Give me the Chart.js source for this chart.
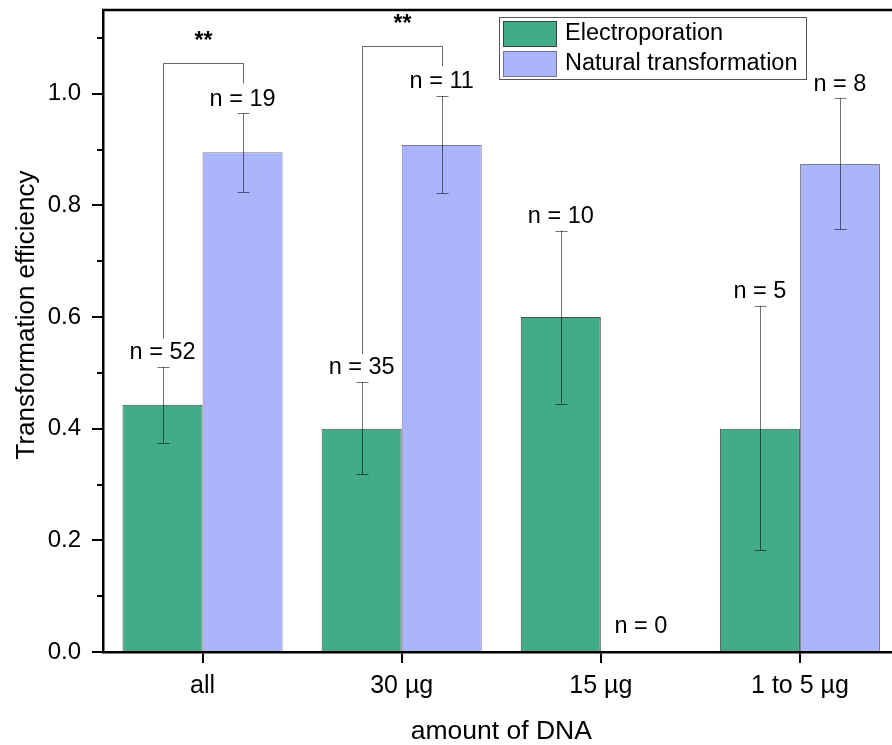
<!DOCTYPE html>
<html>
<head>
<meta charset="utf-8">
<script src="https://cdn.jsdelivr.net/npm/chart.js@4.4.0/dist/chart.umd.min.js"></script>
<style>
html,body{margin:0;padding:0;background:#fff;overflow:hidden;width:892px;height:745px}
#wrap{width:910px;height:745px}
</style>
</head>
<body>
<div id="wrap"><canvas id="c" width="910" height="745"></canvas></div>
<script>
// ---- data ----
const categories = ['all', '30 µg', '15 µg', '1 to 5 µg'];
const seriesNames = ['Electroporation', 'Natural transformation'];
const electroporation = [0.443, 0.40, 0.60, 0.40];
const naturalTransformation = [0.895, 0.908, null, 0.874];
const electroporationErrLow = [0.374, 0.318, 0.445, 0.182];
const electroporationErrHigh = [0.511, 0.484, 0.755, 0.620];
const naturalErrLow = [0.824, 0.822, null, 0.757];
const naturalErrHigh = [0.965, 0.996, null, 0.992];
const electroporationN = [52, 35, 10, 5];
const naturalN = [19, 11, 0, 8];
const significance = ['**', '**', null, null];
const yMajorTicks = [0.0, 0.2, 0.4, 0.6, 0.8, 1.0];
const yMinorTicks = [0.1, 0.3, 0.5, 0.7, 0.9, 1.1];
const yRange = [0, 1.15];
const xTitle = 'amount of DNA';
const yTitle = 'Transformation efficiency';

const FONT = 'Arial, "Liberation Sans", sans-serif';
const GREEN = '#42ac89';
const BLUE = '#abb5fd';

const overlay = {
  id: 'overlay',
  afterDatasetsDraw(chart) {
    const ctx = chart.ctx;
    const y = chart.scales.y;
    const errs = [[electroporationErrLow, electroporationErrHigh, electroporationN],
                  [naturalErrLow, naturalErrHigh, naturalN]];
    const labelY = [[], []];
    ctx.save();
    // error bars
    errs.forEach((e, di) => {
      const meta = chart.getDatasetMeta(di);
      meta.data.forEach((bar, i) => {
        const lo = e[0][i], hi = e[1][i];
        if (lo == null || hi == null) return;
        const x = Math.round(bar.x) + 0.5;
        const yl = y.getPixelForValue(lo), yh = y.getPixelForValue(hi);
        ctx.strokeStyle = 'rgba(0,0,0,0.55)';
        ctx.lineWidth = 1;
        ctx.beginPath();
        ctx.moveTo(x, yl); ctx.lineTo(x, yh);
        ctx.moveTo(x - 6, Math.round(yl) + 0.5); ctx.lineTo(x + 6, Math.round(yl) + 0.5);
        ctx.moveTo(x - 6, Math.round(yh) + 0.5); ctx.lineTo(x + 6, Math.round(yh) + 0.5);
        ctx.stroke();
      });
    });
    // n labels
    ctx.fillStyle = '#000';
    ctx.font = '23.5px ' + FONT;
    ctx.textAlign = 'center';
    ctx.textBaseline = 'middle';
    errs.forEach((e, di) => {
      const meta = chart.getDatasetMeta(di);
      meta.data.forEach((bar, i) => {
        const hi = e[1][i];
        const top = hi != null ? y.getPixelForValue(hi) : y.getPixelForValue(0) - 11;
        const ly = top - 14;
        labelY[di][i] = ly;
        ctx.fillText('n = ' + e[2][i], bar.x, ly);
      });
    });
    // significance brackets
    const m0 = chart.getDatasetMeta(0), m1 = chart.getDatasetMeta(1);
    significance.forEach((s, i) => {
      if (!s) return;
      const xL = Math.round(m0.data[i].x) + 0.5, xR = Math.round(m1.data[i].x) + 0.5;
      const legL = labelY[0][i] - 14;
      const legR = labelY[1][i] - 16;
      const topY = Math.round(legR - 20) + 0.5;
      ctx.strokeStyle = 'rgba(0,0,0,0.6)';
      ctx.lineWidth = 1;
      ctx.beginPath();
      ctx.moveTo(xL, legL); ctx.lineTo(xL, topY); ctx.lineTo(xR, topY); ctx.lineTo(xR, legR);
      ctx.stroke();
      ctx.font = 'bold 23px ' + FONT;
      ctx.fillText(s, (xL + xR) / 2, topY - 22);
    });
    ctx.restore();
  },
  afterDraw(chart) {
    const ctx = chart.ctx;
    const area = chart.chartArea;
    const y = chart.scales.y;
    ctx.save();
    // frame top / right
    ctx.strokeStyle = '#000';
    ctx.lineWidth = 2.5;
    ctx.beginPath();
    ctx.moveTo(area.left - 1, area.top); ctx.lineTo(area.right, area.top); ctx.lineTo(area.right, area.bottom);
    ctx.stroke();
    // minor ticks
    ctx.lineWidth = 2;
    ctx.beginPath();
    yMinorTicks.forEach(v => {
      const py = Math.round(y.getPixelForValue(v));
      ctx.moveTo(area.left - 6, py); ctx.lineTo(area.left, py);
    });
    ctx.stroke();
    // y axis title
    ctx.fillStyle = '#000';
    ctx.font = '26px ' + FONT;
    ctx.textAlign = 'center';
    ctx.textBaseline = 'middle';
    ctx.translate(27, (area.top + area.bottom) / 2 - 16);
    ctx.rotate(-Math.PI / 2);
    ctx.fillText(yTitle, 0, 0);
    ctx.setTransform(1, 0, 0, 1, 0, 0);
    // legend
    const bx = 499.5, by = 17.5, bw = 307, bh = 62;
    ctx.fillStyle = '#fff';
    ctx.fillRect(bx, by, bw, bh);
    ctx.strokeStyle = '#555';
    ctx.lineWidth = 1;
    ctx.strokeRect(bx, by, bw, bh);
    const rows = [[chart.data.datasets[0], 21.5], [chart.data.datasets[1], 51.5]];
    ctx.font = '23.5px ' + FONT;
    ctx.textAlign = 'left';
    ctx.textBaseline = 'middle';
    rows.forEach(([ds, ry]) => {
      ctx.fillStyle = ds.backgroundColor;
      ctx.fillRect(503.5, ry, 53, 25);
      ctx.strokeStyle = ds.borderColor;
      ctx.strokeRect(503.5, ry, 53, 25);
      ctx.fillStyle = '#000';
      ctx.fillText(ds.label, 565, ry + 12.5);
    });
    ctx.restore();
  }
};

new Chart(document.getElementById('c'), {
  type: 'bar',
  data: {
    labels: categories,
    datasets: [
      { label: seriesNames[0], data: electroporation, backgroundColor: GREEN,
        borderColor: 'rgba(30,30,30,0.8)', borderWidth: 1 },
      { label: seriesNames[1], data: naturalTransformation, backgroundColor: BLUE,
        borderColor: 'rgba(90,90,110,0.8)', borderWidth: 1 }
    ]
  },
  options: {
    responsive: false,
    animation: false,
    devicePixelRatio: 1,
    layout: { padding: { top: 10, right: 10.5, left: 0, bottom: 0 } },
    datasets: { bar: { categoryPercentage: 0.804, barPercentage: 1 } },
    plugins: { legend: { display: false }, tooltip: { enabled: false } },
    scales: {
      x: {
        offset: true,
        grid: { display: true, offset: false, drawOnChartArea: false, drawTicks: true, tickLength: 11, color: '#000', lineWidth: 2 },
        border: { display: true, color: '#000', width: 2.5 },
        ticks: { color: '#000', font: { family: FONT, size: 25 }, padding: 8 },
        title: { display: true, text: xTitle, color: '#000', font: { family: FONT, size: 26.5, lineHeight: 1 }, padding: { top: 0, bottom: 0 } },
        afterFit(s) { s.height = 93; s.paddingLeft = 0; s.paddingRight = 0; }
      },
      y: {
        min: yRange[0], max: yRange[1],
        afterBuildTicks(s) { s.ticks = yMajorTicks.map(v => ({ value: v })); },
        grid: { display: true, drawOnChartArea: false, drawTicks: true, tickLength: 11, color: '#000', lineWidth: 2 },
        border: { display: true, color: '#000', width: 2.5 },
        ticks: { color: '#000', font: { family: FONT, size: 24 }, padding: 11,
                 callback(v) { return Number(v).toFixed(1); } },
        title: { display: false, text: yTitle },
        afterFit(s) { s.width = 103; s.paddingTop = 0; s.paddingBottom = 0; }
      }
    }
  },
  plugins: [overlay]
});
</script>
</body>
</html>
